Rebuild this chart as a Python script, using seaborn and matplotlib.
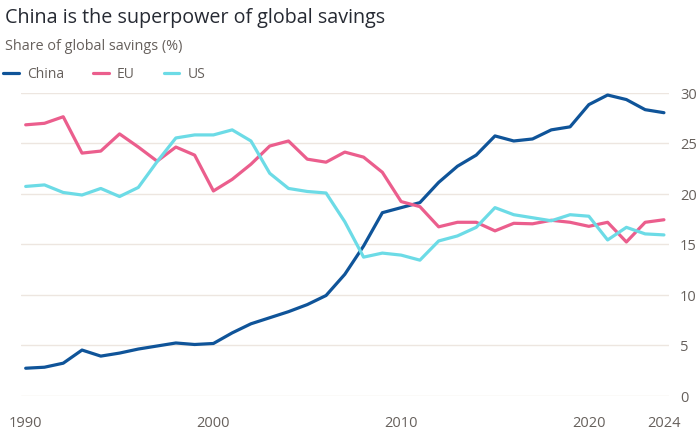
import matplotlib
matplotlib.use("Agg")
import matplotlib.pyplot as plt
import seaborn as sns
import pandas as pd
from matplotlib.lines import Line2D

years = list(range(1990, 2025))
china = [2.7, 2.8, 3.2, 4.5, 3.9, 4.2, 4.6, 4.9, 5.2, 5.05, 5.15, 6.2, 7.1, 7.7, 8.3, 9.0, 9.9,
         12.0, 14.8, 18.1, 18.6, 19.1, 21.1, 22.7, 23.8, 25.7, 25.2, 25.4, 26.3, 26.6, 28.8,
         29.75, 29.3, 28.3, 28.0]
eu = [26.8, 26.95, 27.6, 24.0, 24.2, 25.9, 24.6, 23.2, 24.6, 23.8, 20.25, 21.4, 22.9, 24.7,
      25.2, 23.4, 23.1, 24.1, 23.6, 22.1, 19.2, 18.7, 16.7, 17.15, 17.15, 16.3, 17.05, 17.0,
      17.35, 17.15, 16.75, 17.15, 15.2, 17.15, 17.4]
us = [20.7, 20.85, 20.1, 19.85, 20.5, 19.7, 20.6, 23.15, 25.5, 25.8, 25.8, 26.3, 25.2, 22.0,
      20.5, 20.2, 20.05, 17.2, 13.7, 14.1, 13.9, 13.4, 15.3, 15.8, 16.65, 18.6, 17.9, 17.6,
      17.3, 17.9, 17.75, 15.4, 16.65, 16.0, 15.9]
series_names = ["China", "EU", "US"]
yticks = [0, 5, 10, 15, 20, 25, 30]
xticklabels = [1990, 2000, 2010, 2020, 2024]

colors = {"China": "#0f5499", "EU": "#eb5e8d", "US": "#6cdbe6"}

df = pd.DataFrame({
    "year": years * 3,
    "value": china + eu + us,
    "series": ["China"] * len(years) + ["EU"] * len(years) + ["US"] * len(years),
})

sns.set_style("white")
plt.rcParams["font.family"] = ["Open Sans", "DejaVu Sans"]

fig = plt.figure(figsize=(7, 4.35), dpi=100)
W, H = 700, 435
left, right = 21 / W, 669 / W
bottom, top = 1 - 396.5 / H, 1 - 93.5 / H
ax = fig.add_axes([left, bottom, right - left, top - bottom])

sns.lineplot(data=df, x="year", y="value", hue="series", palette=colors,
             linewidth=2.3, ax=ax, legend=False, zorder=3)

ax.set_xlim(1989.75, 2024.27)
ax.set_ylim(0, 30)
grid_c = "#ede6e0"
for v in yticks:
    ax.axhline(v, color=grid_c, lw=1, zorder=1)
for s in ax.spines.values():
    s.set_visible(False)

ax.yaxis.tick_right()
ax.set_yticks(yticks)
ax.set_yticklabels([str(v) for v in yticks])
ax.tick_params(axis="y", length=0, pad=8, labelsize=10.5, labelcolor="#66605c")

ax.set_xticks(years, minor=True)
ax.set_xticks(xticklabels)
ax.set_xticklabels([str(v) for v in xticklabels])
ax.tick_params(axis="x", which="both", length=6, width=1, color="#ddd6d0",
               direction="out", labelsize=10.5, labelcolor="#66605c", pad=8)
ax.set_xlabel("")
ax.set_ylabel("")

fig.text(5 / W, 1 - 18 / H, "China is the superpower of global savings",
         fontsize=14.2, color="#262a33", va="center", ha="left")
fig.text(5 / W, 1 - 46 / H, "Share of global savings (%)",
         fontsize=10.4, color="#66605c", va="center", ha="left")

handles = [Line2D([0], [0], color=colors[n], lw=2.3) for n in series_names]
leg = fig.legend(handles, series_names, ncol=3, loc="center left",
                 bbox_to_anchor=(-0.003, 1 - 75 / H), frameon=False,
                 handlelength=1.1, handletextpad=0.6, columnspacing=2.1,
                 fontsize=10, borderpad=0.2, borderaxespad=0.2)
for t in leg.get_texts():
    t.set_color("#66605c")

fig.savefig("out.png", dpi=100, facecolor="white")
